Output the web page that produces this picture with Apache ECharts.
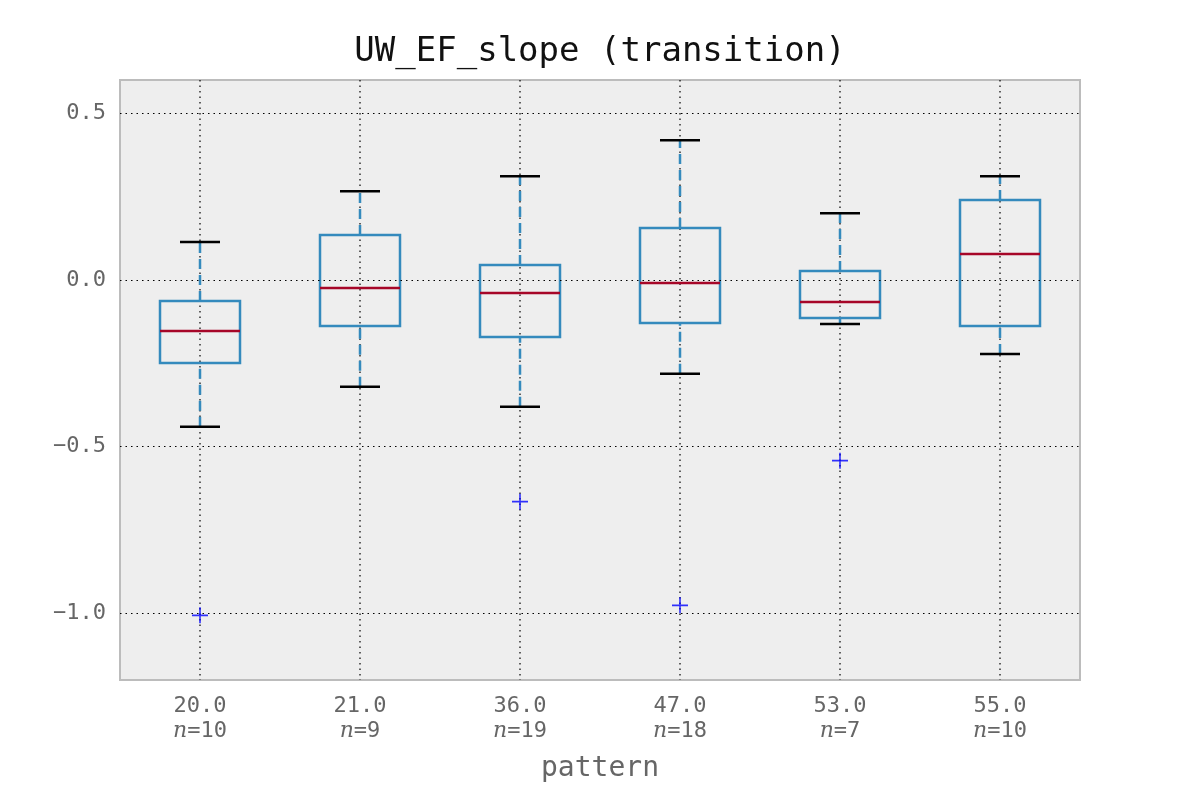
<!DOCTYPE html>
<html><head><meta charset="utf-8">
<script src="https://cdn.jsdelivr.net/npm/echarts@6/dist/echarts.min.js"></script>
<style>html,body{margin:0;background:#fff}#c{width:1200px;height:800px}</style>
</head><body><div id="c"></div>
<script>
var patterns = ['20.0', '21.0', '36.0', '47.0', '53.0', '55.0'];
var counts = [10, 9, 19, 18, 7, 10];
// [low whisker, Q1, median, Q3, high whisker]
var boxes = [
    [-0.44, -0.249, -0.153, -0.063, 0.114],
    [-0.32, -0.138, -0.024, 0.135, 0.266],
    [-0.38, -0.171, -0.039, 0.045, 0.311],
    [-0.281, -0.129, -0.009, 0.156, 0.419],
    [-0.132, -0.114, -0.066, 0.027, 0.2],
    [-0.222, -0.138, 0.078, 0.24, 0.311]
];
var outliers = [[0, -1.006], [2, -0.665], [3, -0.976], [4, -0.542]];
var yTicks = [-1.0, -0.5, 0.0, 0.5];

var font = 'DejaVu Sans Mono';
var chart = echarts.init(document.getElementById('c'));

function renderBox(params, api) {
    var i = api.value(0);
    var cs = params.coordSys;
    var x = api.coord([i, 0])[0];
    var p = [1, 2, 3, 4, 5].map(function (k) { return api.coord([i, api.value(k)])[1]; });
    var bw = api.size([1, 0])[0] * 0.5, cw = bw * 0.5;
    var kids = [
        {type: 'line', shape: {x1: x, y1: cs.y, x2: x, y2: cs.y + cs.height},
         style: {stroke: '#000', lineWidth: 1.2, lineDash: [1.5, 4]}},
        {type: 'line', shape: {x1: x, y1: p[0], x2: x, y2: p[1]}, style: {stroke: '#348abd', lineWidth: 2.5, lineDash: [10, 6]}},
        {type: 'line', shape: {x1: x, y1: p[3], x2: x, y2: p[4]}, style: {stroke: '#348abd', lineWidth: 2.5, lineDash: [10, 6]}},
        {type: 'line', shape: {x1: x - cw / 2, y1: p[0], x2: x + cw / 2, y2: p[0]}, style: {stroke: '#000', lineWidth: 2.5}},
        {type: 'line', shape: {x1: x - cw / 2, y1: p[4], x2: x + cw / 2, y2: p[4]}, style: {stroke: '#000', lineWidth: 2.5}},
        {type: 'rect', shape: {x: x - bw / 2, y: p[3], width: bw, height: p[1] - p[3]}, style: {fill: 'none', stroke: '#348abd', lineWidth: 2.5}},
        {type: 'line', shape: {x1: x - bw / 2, y1: p[2], x2: x + bw / 2, y2: p[2]}, style: {stroke: '#a60628', lineWidth: 2.5}}
    ];
    return {type: 'group', children: kids};
}

chart.setOption({
    backgroundColor: '#fff',
    title: {text: 'UW_EF_slope (transition)', left: 'center', top: 30,
        textStyle: {fontFamily: font, fontSize: 34, fontWeight: 'normal', color: '#111'}},
    grid: {left: 120, right: 120, top: 80, bottom: 120, show: true, backgroundColor: '#eeeeee', borderColor: '#bcbcbc', borderWidth: 2},
    xAxis: {
        type: 'category', data: patterns, name: 'pattern', nameLocation: 'middle', nameGap: 75,
        nameTextStyle: {fontFamily: font, fontSize: 28, color: '#666'},
        axisLine: {show: false}, axisTick: {show: false}, splitLine: {show: false},
        axisLabel: {margin: 14, lineHeight: 25, fontFamily: font, fontSize: 22, color: '#666',
            formatter: function (v, i) { return v + '\n{i|n}=' + counts[i]; },
            rich: {i: {fontFamily: 'DejaVu Serif', fontStyle: 'italic', fontSize: 22, color: '#666'}}}
    },
    yAxis: {
        type: 'value', min: -1.2, max: 0.6,
        axisLine: {show: false}, axisTick: {show: false}, splitLine: {show: false},
        axisLabel: {customValues: yTicks, margin: 14, fontFamily: font, fontSize: 22, color: '#666',
            formatter: function (v) { return v.toFixed(1).replace('-', '\u2212'); }}
    },
    series: [
        {type: 'custom', renderItem: renderBox, silent: true,
         data: boxes.map(function (b, i) { return [i].concat(b); }),
         markLine: {silent: true, symbol: 'none', label: {show: false},
            lineStyle: {color: '#000', width: 1.2, type: [1.5, 4]},
            data: yTicks.map(function (t) { return {yAxis: t}; })}},
        {type: 'scatter', data: outliers, symbol: 'path://M5.4,0H6.6V5.4H12V6.6H6.6V12H5.4V6.6H0V5.4H5.4Z', symbolSize: 16,
         itemStyle: {color: '#0000ff'}, silent: true}
    ]
});
</script></body></html>
